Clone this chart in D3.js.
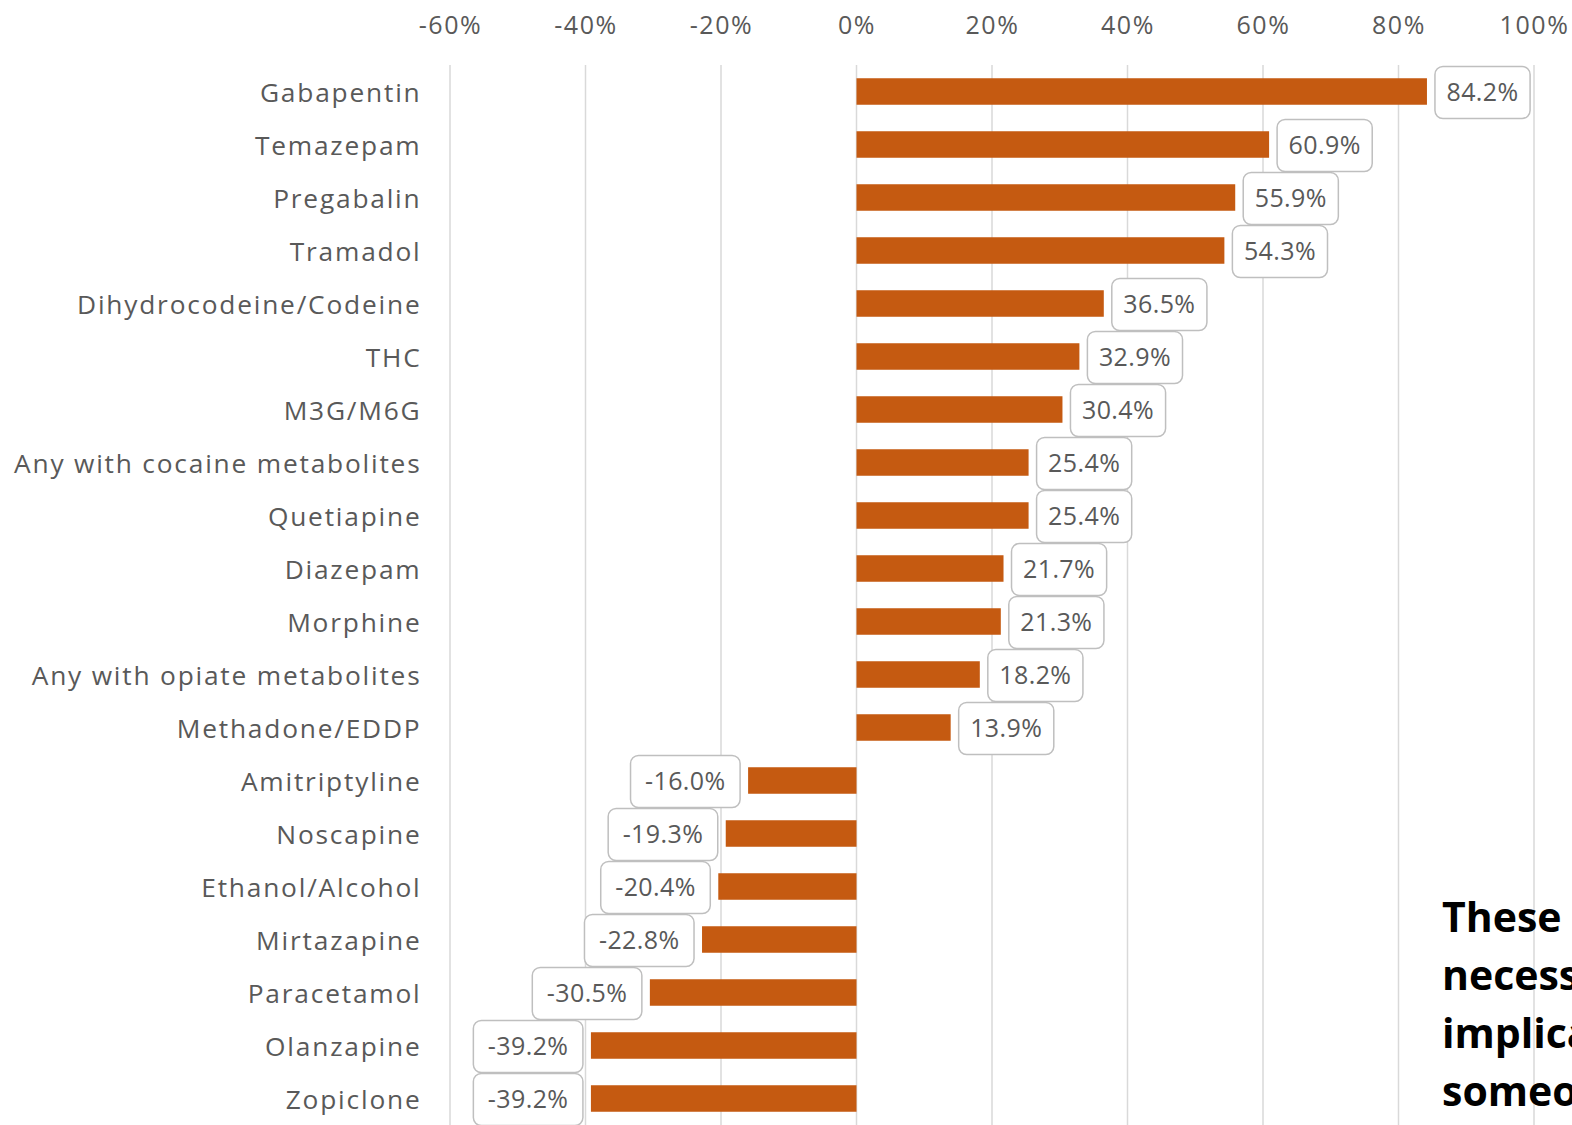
<!DOCTYPE html>
<html>
<head>
<meta charset="utf-8">
<script src="https://cdn.jsdelivr.net/npm/d3@7"></script>
<style>
  html, body { margin: 0; padding: 0; background: #fff; overflow: hidden; }
  svg { display: block; }
</style>
</head>
<body>
<svg id="chart" width="1572" height="1125"></svg>
<script>
// Year-on-year change in detections, by substance
const substances = [
  "Gabapentin", "Temazepam", "Pregabalin", "Tramadol", "Dihydrocodeine/Codeine",
  "THC", "M3G/M6G", "Any with cocaine metabolites", "Quetiapine", "Diazepam",
  "Morphine", "Any with opiate metabolites", "Methadone/EDDP", "Amitriptyline",
  "Noscapine", "Ethanol/Alcohol", "Mirtazapine", "Paracetamol", "Olanzapine", "Zopiclone"
];
const changePct = [
  84.2, 60.9, 55.9, 54.3, 36.5,
  32.9, 30.4, 25.4, 25.4, 21.7,
  21.3, 18.2, 13.9, -16.0,
  -19.3, -20.4, -22.8, -30.5, -39.2, -39.2
];
const tickValues = [-60, -40, -20, 0, 20, 40, 60, 80, 100];
const noteLines = [
  "These changes are not",
  "necessarily indicative of",
  "implications for",
  "someone's health"
];

const data = substances.map((name, i) => ({ name, value: changePct[i] }));

const svg = d3.select("#chart");
const FONT = "'Open Sans', 'Noto Sans', sans-serif";
const TEXT = "#595959";
const BAR = "#C55A11";

const x = d3.scaleLinear().domain([-60, 100]).range([450, 1534]);
const y = d3.scaleBand().domain(substances).range([65, 1125]).paddingInner(0.5).paddingOuter(0.25);

// vertical gridlines
svg.append("g")
  .selectAll("line")
  .data(tickValues)
  .join("line")
  .attr("x1", d => x(d)).attr("x2", d => x(d))
  .attr("y1", 65).attr("y2", 1125)
  .attr("stroke", "#d9d9d9").attr("stroke-width", 1.5);

// top axis labels
const axis = d3.axisTop(x).tickValues(tickValues).tickSize(0).tickPadding(0)
  .tickFormat(d => d + "%");
const axisG = svg.append("g").attr("transform", "translate(0,34)").call(axis);
axisG.select(".domain").remove();
axisG.selectAll("text")
  .attr("font-family", FONT).attr("font-size", 25).attr("fill", TEXT)
  .attr("letter-spacing", 1.6);

// category labels
svg.append("g")
  .selectAll("text")
  .data(data)
  .join("text")
  .attr("x", 421.5)
  .attr("y", d => y(d.name) + y.bandwidth() / 2 + 1)
  .attr("dy", "0.35em")
  .attr("text-anchor", "end")
  .attr("font-family", FONT).attr("font-size", 26.3).attr("fill", TEXT)
  .attr("letter-spacing", 1.8)
  .text(d => d.name);

// bars
svg.append("g")
  .selectAll("rect")
  .data(data)
  .join("rect")
  .attr("x", d => x(Math.min(0, d.value)))
  .attr("width", d => Math.abs(x(d.value) - x(0)))
  .attr("y", d => y(d.name))
  .attr("height", y.bandwidth())
  .attr("fill", BAR);

// value callouts
const labels = svg.append("g")
  .selectAll("g")
  .data(data)
  .join("g");

labels.each(function (d) {
  const g = d3.select(this);
  const cy = y(d.name) + y.bandwidth() / 2 + 1;
  const t = g.append("text")
    .attr("font-family", FONT).attr("font-size", 25).attr("fill", TEXT)
    .attr("letter-spacing", 0.4)
    .attr("dy", "0.35em")
    .attr("y", cy)
    .text(d.value.toFixed(1) + "%");
  const w = t.node().getComputedTextLength() + (d.value < 0 ? 29 : 23);
  const h = 52;
  const bx = d.value >= 0 ? x(d.value) + 8 : x(d.value) - 8 - w;
  g.insert("rect", "text")
    .attr("x", bx).attr("y", cy - h / 2)
    .attr("width", w).attr("height", h)
    .attr("rx", 8)
    .attr("fill", "#fff").attr("stroke", "#bfbfbf").attr("stroke-width", 1.5);
  t.attr("x", bx + w / 2).attr("text-anchor", "middle");
});

// side note
svg.append("text")
  .attr("font-family", FONT).attr("font-size", 41).attr("font-weight", 700).attr("fill", "#000")
  .selectAll("tspan")
  .data(noteLines)
  .join("tspan")
  .attr("x", 1442)
  .attr("y", (d, i) => 932 + i * 58)
  .text(d => d);
</script>
</body>
</html>
